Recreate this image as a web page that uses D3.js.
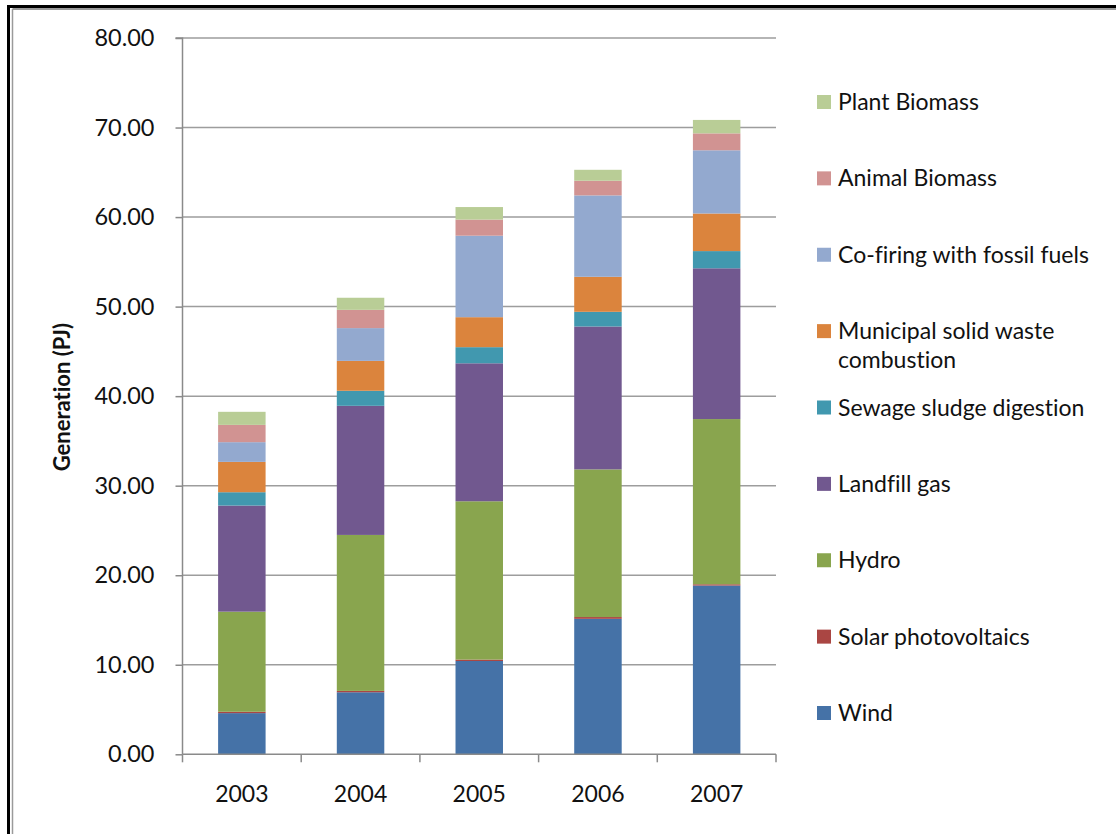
<!DOCTYPE html>
<html>
<head>
<meta charset="utf-8">
<script src="https://cdn.jsdelivr.net/npm/d3@7"></script>
<style>
  html, body { margin: 0; padding: 0; background: #fff; }
  svg { display: block; }
  text { font-family: Lato, "Open Sans", sans-serif; fill: #111; font-variant-ligatures: none; }
</style>
</head>
<body>
<svg id="chart" width="1116" height="834"></svg>
<script>
// ---- Data ----
const years = ["2003", "2004", "2005", "2006", "2007"];
const seriesNames = ["Wind", "Solar photovoltaics", "Hydro", "Landfill gas", "Sewage sludge digestion",
  "Municipal solid waste combustion", "Co-firing with fossil fuels", "Animal Biomass", "Plant Biomass"];
const wind     = [4.60, 6.93, 10.42, 15.13, 18.85];
const solar    = [0.15, 0.15, 0.16, 0.20, 0.14];
const hydro    = [11.18, 17.42, 17.68, 16.49, 18.45];
const landfill = [11.85, 14.42, 15.41, 15.96, 16.84];
const sewage   = [1.49, 1.68, 1.80, 1.64, 1.92];
const msw      = [3.39, 3.34, 3.35, 3.91, 4.20];
const cofiring = [2.20, 3.66, 9.10, 9.09, 7.06];
const animal   = [1.93, 2.04, 1.80, 1.64, 1.89];
const plant    = [1.46, 1.35, 1.40, 1.22, 1.50];
const yTicks = [0, 10, 20, 30, 40, 50, 60, 70, 80];
const colors = ["#4572A7", "#AA4643", "#89A54E", "#71588F", "#4198AF", "#DB843D", "#93A9CF", "#D19392", "#B9CD96"];

const seriesValues = [wind, solar, hydro, landfill, sewage, msw, cofiring, animal, plant];
const rows = years.map((yr, i) => {
  const r = { year: yr };
  seriesNames.forEach((n, k) => r[n] = seriesValues[k][i]);
  return r;
});

const svg = d3.select("#chart");

// Frame
svg.append("line").attr("x1", 8.5).attr("x2", 1116).attr("y1", 6.5).attr("y2", 6.5)
  .attr("stroke", "#000").attr("stroke-width", 3);
svg.append("line").attr("x1", 8.5).attr("x2", 8.5).attr("y1", 5).attr("y2", 834)
  .attr("stroke", "#000").attr("stroke-width", 3);
svg.append("line").attr("x1", 12.5).attr("x2", 1116).attr("y1", 9).attr("y2", 9)
  .attr("stroke", "#9a9a9a").attr("stroke-width", 2);
svg.append("line").attr("x1", 12.5).attr("x2", 12.5).attr("y1", 9).attr("y2", 834)
  .attr("stroke", "#9a9a9a").attr("stroke-width", 1.5);

const plotLeft = 182.5, plotRight = 776, plotTop = 38, plotBottom = 754.3;

const x = d3.scaleBand().domain(years).range([plotLeft, plotRight]).paddingInner(0.6).paddingOuter(0.3);
const y = d3.scaleLinear().domain([0, 80]).range([plotBottom, plotTop]);

// Gridlines
svg.append("g").selectAll("line").data(yTicks.filter(t => t > 0)).join("line")
  .attr("x1", plotLeft).attr("x2", plotRight)
  .attr("y1", d => y(d)).attr("y2", d => y(d))
  .attr("stroke", "#9d9d9d").attr("stroke-width", 1.5);

// Stacked bars
const stack = d3.stack().keys(seriesNames)(rows);
svg.append("g").selectAll("g").data(stack).join("g")
  .attr("fill", (d, i) => colors[i])
  .selectAll("rect").data(d => d).join("rect")
  .attr("x", d => x(d.data.year))
  .attr("width", x.bandwidth())
  .attr("y", d => y(d[1]))
  .attr("height", d => y(d[0]) - y(d[1]));

// Y axis
const yAxis = d3.axisLeft(y).tickValues(yTicks).tickFormat(d3.format(".2f")).tickSize(7).tickPadding(21);
const gy = svg.append("g").attr("transform", `translate(${plotLeft},0)`).call(yAxis);
gy.select(".domain").attr("stroke", "#8a8a8a").attr("stroke-width", 1.5).attr("d", `M-7,${plotTop}H0V${plotBottom}`);
gy.selectAll(".tick line").attr("stroke", "#8a8a8a").attr("stroke-width", 1.5);
gy.selectAll(".tick text").attr("font-size", 23.5).attr("font-family", "Lato, sans-serif").attr("fill", "#111");

// X axis
const xAxis = d3.axisBottom(x).tickSize(0).tickPadding(31);
const gx = svg.append("g").attr("transform", `translate(0,${plotBottom})`).call(xAxis);
gx.select(".domain").attr("stroke", "#8a8a8a").attr("stroke-width", 1.5).attr("d", `M${plotLeft},0H${plotRight}`);
gx.selectAll(".tick text").attr("font-size", 23).attr("font-family", "Lato, sans-serif").attr("fill", "#111");
// category boundary ticks
const boundaryX = [plotLeft].concat(years.map(yr => x(yr) + x.bandwidth() + x.step() * x.paddingInner() / 2));
boundaryX[boundaryX.length - 1] = plotRight;
svg.append("g").selectAll("line").data(boundaryX).join("line")
  .attr("x1", d => d).attr("x2", d => d)
  .attr("y1", plotBottom).attr("y2", plotBottom + 8)
  .attr("stroke", "#8a8a8a").attr("stroke-width", 1.5);

// Y title
svg.append("text")
  .attr("transform", `translate(70,${(plotTop + plotBottom) / 2 + 1}) rotate(-90)`)
  .attr("text-anchor", "middle")
  .attr("font-size", 22).attr("font-weight", "bold")
  .text("Generation (PJ)");

// Legend (reverse order, top = Plant Biomass)
const legendOrder = seriesNames.map((n, i) => ({ name: n, color: colors[i] })).reverse();
const legendY = d3.scalePoint().domain(legendOrder.map(d => d.name)).range([102, 713]);
const lg = svg.append("g").selectAll("g").data(legendOrder).join("g")
  .attr("transform", d => `translate(817,${legendY(d.name)})`);
lg.append("rect").attr("x", 0).attr("y", -7).attr("width", 14).attr("height", 14).attr("fill", d => d.color);
lg.each(function (d) {
  const g = d3.select(this);
  const lines = d.name === "Municipal solid waste combustion" ? ["Municipal solid waste", "combustion"] : [d.name];
  const t = g.append("text").attr("x", 21).attr("y", 8).attr("font-size", 23);
  lines.forEach((ln, i) => t.append("tspan").attr("x", 21).attr("dy", i === 0 ? 0 : 29).text(ln));
});
</script>
</body>
</html>
